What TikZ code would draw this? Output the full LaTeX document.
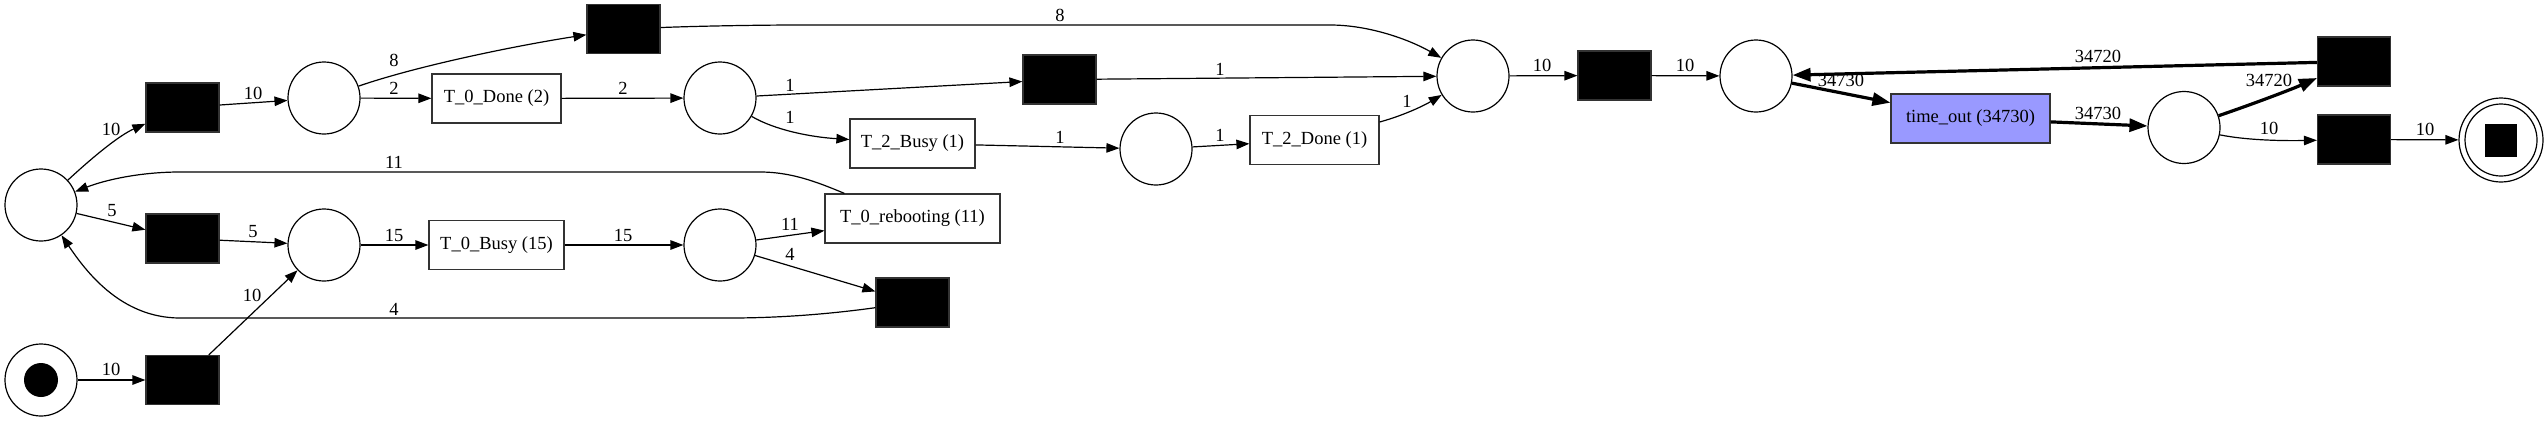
\documentclass[tikz,border=0pt]{standalone}
\usepackage{fontspec}
\setmainfont{Liberation Serif}
\usetikzlibrary{arrows.meta}
\definecolor{edgegray}{HTML}{333333}
\definecolor{lav}{HTML}{9999FF}
\tikzset{
  place/.style={circle,draw=black,line width=1.2pt,minimum size=72pt,inner sep=0pt,fill=white},
  blk/.style={rectangle,draw=edgegray,line width=1.2pt,fill=black,minimum width=73pt,minimum height=49pt,inner sep=0pt},
  trans/.style={rectangle,draw=edgegray,line width=1.2pt,fill=white,minimum height=49pt,inner sep=0pt,font=\fontsize{18.5}{22}\selectfont},
  arc/.style={line width=1.2pt,draw=black,-{Triangle[length=13pt,width=9.5pt]}},
  thickarc/.style={line width=3.2pt,draw=black,-{Triangle[length=18pt,width=13pt]}},
  lbl/.style={inner sep=0pt,font=\fontsize{18.5}{22}\selectfont},
}
\begin{document}
\begin{tikzpicture}[x=1pt,y=-1pt]
\useasboundingbox (0,0) rectangle (2548,421);
% places
\node[place] (pL) at (41,205) {};
\node[place] (pI) at (41,380) {};
\node[circle,fill=black,minimum size=34pt,inner sep=0pt] (tok) at (pI) {};
\node[place] (p1) at (324,98) {};
\node[place] (p2) at (324,245) {};
\node[place] (p3) at (720,98) {};
\node[place] (p4) at (720,245) {};
\node[place] (p5) at (1156,149) {};
\node[place] (p6) at (1473,76) {};
\node[place] (p7) at (1756,76) {};
\node[place] (p8) at (2184,127.5) {};
\node[place,minimum size=84pt] (pF) at (2501,140) {};
\node[circle,draw=black,line width=1.2pt,minimum size=72pt,inner sep=0pt] (pFin) at (pF) {};
\node[rectangle,fill=black,minimum width=32pt,minimum height=33pt,inner sep=0pt] (pFsq) at (pF) {};
% transitions
\node[blk] (tI) at (182.5,380) {};
\node[blk] (tA) at (182.5,107.5) {};
\node[blk] (tB) at (182.5,238.5) {};
\node[blk] (bTop) at (623.5,29) {};
\node[blk] (bMid) at (1059.5,79.5) {};
\node[blk] (bLow) at (912.5,302.5) {};
\node[blk] (bX) at (1614.5,75.5) {};
\node[blk] (bR1) at (2354,61.5) {};
\node[blk] (bR2) at (2354,139.5) {};
\node[trans,minimum width=129pt] (tDone0) at (496.5,98.5) {T\_0\_Done (2)};
\node[trans,minimum width=135pt] (tBusy0) at (496.5,245) {T\_0\_Busy (15)};
\node[trans,minimum width=125pt] (tBusy2) at (912.5,143.5) {T\_2\_Busy (1)};
\node[trans,minimum width=175pt] (tReboot) at (912.5,218.5) {T\_0\_rebooting (11)};
\node[trans,minimum width=129pt] (tDone2) at (1314.5,140) {T\_2\_Done (1)};
\node[trans,minimum width=159pt,fill=lav] (tOut) at (1970.5,118.5) {time\_out (34730)};
% arcs
\draw[arc] (pI) -- (tI);
\draw[arc] (tI) -- (p2);
\draw[arc] (pL) .. controls (95,155) and (120,135) .. (tA);
\draw[arc] (tA) -- (p1);
\draw[arc] (pL) -- (tB);
\draw[arc] (tB) -- (p2);
\draw[arc] (p1) .. controls (420,65) and (520,45) .. (bTop);
\draw[arc] (p1) -- (tDone0);
\draw[arc] (tDone0) -- (p3);
\draw[arc] (p2) -- (tBusy0);
\draw[arc] (tBusy0) -- (p4);
\draw[arc] ([xshift=20pt]tReboot.north west) .. controls (815,181) and (790,172) .. (760,172) -- (180,172) .. controls (140,172) and (105,180) .. (pL);
\draw[arc] (bLow) .. controls (830,314) and (780,318) .. (730,318) -- (180,318) .. controls (120,318) and (85,270) .. (pL);
\draw[arc] (p4) -- (tReboot);
\draw[arc] (p4) -- (bLow);
\draw[arc] (p3) -- (bMid);
\draw[arc] (p3) .. controls (775,130) and (810,137) .. (tBusy2);
\draw[arc] (tBusy2) -- (p5);
\draw[arc] (p5) -- (tDone2);
\draw[arc] (tDone2) .. controls (1405,115) and (1425,105) .. (p6);
\draw[arc] (bMid) -- (p6);
\draw[arc] (bTop) .. controls (700,26) and (760,25) .. (800,25) -- (1330,25) .. controls (1370,25) and (1410,40) .. (p6);
\draw[arc] (p6) -- (bX);
\draw[arc] (bX) -- (p7);
\draw[thickarc] (p7) -- (tOut);
\draw[thickarc] (bR1) -- (p7);
\draw[thickarc] (tOut) -- (p8);
\draw[thickarc] (p8) .. controls (2250,105) and (2290,90) .. (bR1);
\draw[arc] (p8) .. controls (2245,140) and (2280,141) .. (bR2);
\draw[arc] (bR2) -- (pF);
% labels
\node[lbl] (l1) at (111,369) {10};
\node[lbl] (l2) at (252,295) {10};
\node[lbl] (l3) at (111,129) {10};
\node[lbl] (l4) at (253,93) {10};
\node[lbl] (l5) at (112,211) {5};
\node[lbl] (l6) at (253,232) {5};
\node[lbl] (l7) at (394,60) {8};
\node[lbl] (l8) at (394,88) {2};
\node[lbl] (l9) at (623,88) {2};
\node[lbl] (l10) at (394,235) {15};
\node[lbl] (l11) at (623,235) {15};
\node[lbl] (l12) at (394,162) {11};
\node[lbl] (l13) at (394,309) {4};
\node[lbl] (l14) at (790,224) {11};
\node[lbl] (l15) at (790,254) {4};
\node[lbl] (l16) at (790,85) {1};
\node[lbl] (l17) at (790,117) {1};
\node[lbl] (l18) at (1060,137) {1};
\node[lbl] (l19) at (1220,135) {1};
\node[lbl] (l20) at (1407,101) {1};
\node[lbl] (l21) at (1220,69) {1};
\node[lbl] (l22) at (1060,15) {8};
\node[lbl] (l23) at (1542,65) {10};
\node[lbl] (l24) at (1685,65) {10};
\node[lbl] (l25) at (1841,80) {34730};
\node[lbl] (l26) at (2098,56) {34720};
\node[lbl] (l27) at (2098,113) {34730};
\node[lbl] (l28) at (2269,80) {34720};
\node[lbl] (l29) at (2269,128) {10};
\node[lbl] (l30) at (2425,129) {10};
\end{tikzpicture}
\end{document}
